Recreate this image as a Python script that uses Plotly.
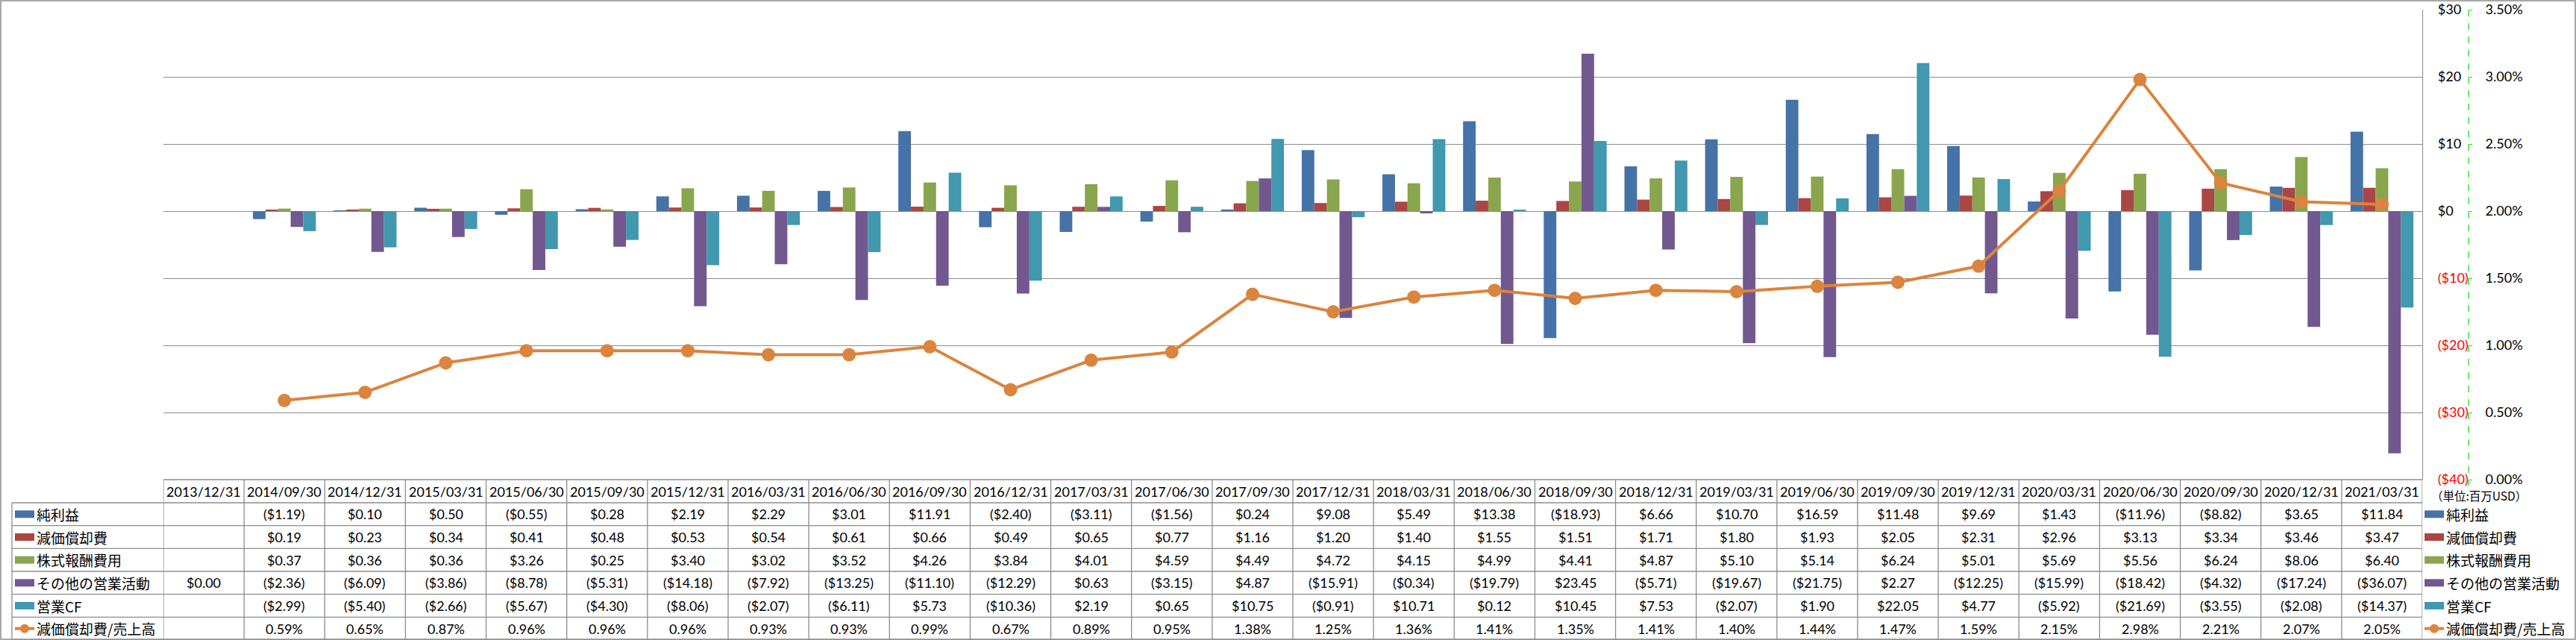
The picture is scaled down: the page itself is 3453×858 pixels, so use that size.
import plotly.graph_objects as go

W, H = 3453, 858

dates = ["2013/12/31", "2014/09/30", "2014/12/31", "2015/03/31", "2015/06/30", "2015/09/30",
         "2015/12/31", "2016/03/31", "2016/06/30", "2016/09/30", "2016/12/31", "2017/03/31",
         "2017/06/30", "2017/09/30", "2017/12/31", "2018/03/31", "2018/06/30", "2018/09/30",
         "2018/12/31", "2019/03/31", "2019/06/30", "2019/09/30", "2019/12/31", "2020/03/31",
         "2020/06/30", "2020/09/30", "2020/12/31", "2021/03/31"]

net_income = [None, -1.19, 0.10, 0.50, -0.55, 0.28, 2.19, 2.29, 3.01, 11.91, -2.40, -3.11,
              -1.56, 0.24, 9.08, 5.49, 13.38, -18.93, 6.66, 10.70, 16.59, 11.48, 9.69, 1.43,
              -11.96, -8.82, 3.65, 11.84]
depreciation = [None, 0.19, 0.23, 0.34, 0.41, 0.48, 0.53, 0.54, 0.61, 0.66, 0.49, 0.65,
                0.77, 1.16, 1.20, 1.40, 1.55, 1.51, 1.71, 1.80, 1.93, 2.05, 2.31, 2.96,
                3.13, 3.34, 3.46, 3.47]
stock_comp = [None, 0.37, 0.36, 0.36, 3.26, 0.25, 3.40, 3.02, 3.52, 4.26, 3.84, 4.01,
              4.59, 4.49, 4.72, 4.15, 4.99, 4.41, 4.87, 5.10, 5.14, 6.24, 5.01, 5.69,
              5.56, 6.24, 8.06, 6.40]
other_ops = [0.00, -2.36, -6.09, -3.86, -8.78, -5.31, -14.18, -7.92, -13.25, -11.10, -12.29, 0.63,
             -3.15, 4.87, -15.91, -0.34, -19.79, 23.45, -5.71, -19.67, -21.75, 2.27, -12.25, -15.99,
             -18.42, -4.32, -17.24, -36.07]
op_cf = [None, -2.99, -5.40, -2.66, -5.67, -4.30, -8.06, -2.07, -6.11, 5.73, -10.36, 2.19,
         0.65, 10.75, -0.91, 10.71, 0.12, 10.45, 7.53, -2.07, 1.90, 22.05, 4.77, -5.92,
         -21.69, -3.55, -2.08, -14.37]
dep_ratio = [None, 0.59, 0.65, 0.87, 0.96, 0.96, 0.96, 0.93, 0.93, 0.99, 0.67, 0.89,
             0.95, 1.38, 1.25, 1.36, 1.41, 1.35, 1.41, 1.40, 1.44, 1.47, 1.59, 2.15,
             2.98, 2.21, 2.07, 2.05]

bar_names = ["純利益", "減価償却費", "株式報酬費用", "その他の営業活動", "営業CF"]
line_name = "減価償却費/売上高"
bar_series = [net_income, depreciation, stock_comp, other_ops, op_cf]
bar_colors = ["#4572A7", "#AA4643", "#89A54E", "#71588F", "#4198AF"]
line_color = "#DB843D"

y_ticks = [-40, -30, -20, -10, 0, 10, 20, 30]
y2_ticks = [0, 0.5, 1.0, 1.5, 2.0, 2.5, 3.0, 3.5]
unit_label = "（単位:百万USD）"

# ---- layout constants (pixels) ----
PL, PR, PT, PB = 219, 3247, 13, 643
HDR_TOP, HDR_BOT = 643, 674
ROW_H = (858 - 674) / 6
LAB_LEFT = 16
Y2_X = 3309
GRID = "#8C8C8C"
NUM_FONT = "Lato"
JP_FONT = "Noto Sans CJK JP"


def px(x):
    return x / W


def py(y):
    return 1 - y / H


def fmt_money(v):
    if v is None:
        return ""
    return f"${v:.2f}" if v >= 0 else f"(${-v:.2f})"


def fmt_pct(v):
    return "" if v is None else f"{v:.2f}%"


def fmt_tick(v):
    if v >= 0:
        return f"${v}"
    return f"<span style='color:#FF0000'>(${-v})</span>"


fig = go.Figure()
for name, vals, col in zip(bar_names, bar_series, bar_colors):
    fig.add_trace(go.Bar(x=dates, y=vals, name=name, marker=dict(color=col, line=dict(width=0)),
                         yaxis="y"))
fig.add_trace(go.Scatter(x=dates, y=dep_ratio, name=line_name, yaxis="y2", mode="lines+markers",
                         line=dict(color=line_color, width=4),
                         marker=dict(size=18, color=line_color)))

shapes = []
annotations = []

# table vertical lines
for k in range(len(dates) + 1):
    shapes.append(dict(type="line", xref="x", yref="paper", x0=k - 0.5, x1=k - 0.5,
                       y0=py(HDR_TOP), y1=py(858), line=dict(color=GRID, width=1.3)))
# label column left border
shapes.append(dict(type="line", xref="paper", yref="paper", x0=px(LAB_LEFT), x1=px(LAB_LEFT),
                   y0=py(HDR_BOT), y1=py(858), line=dict(color=GRID, width=1.3)))
# header top line
shapes.append(dict(type="line", xref="paper", yref="paper", x0=px(PL), x1=px(PR),
                   y0=py(HDR_TOP), y1=py(HDR_TOP), line=dict(color=GRID, width=1.3)))
# row lines
for r in range(7):
    yy = HDR_BOT + r * ROW_H
    shapes.append(dict(type="line", xref="paper", yref="paper", x0=px(LAB_LEFT), x1=px(PR),
                       y0=py(yy), y1=py(yy), line=dict(color=GRID, width=1.3)))
# outer border
shapes.append(dict(type="rect", xref="paper", yref="paper", x0=px(1), x1=px(W - 1),
                   y0=py(1), y1=py(H - 1), line=dict(color=GRID, width=1.5)))
# green dashed secondary axis line
shapes.append(dict(type="line", xref="paper", yref="paper", x0=px(Y2_X), x1=px(Y2_X),
                   y0=py(PT), y1=py(PB + 8), line=dict(color="#22DD22", width=1.3, dash="dash")))

# header texts
for d in dates:
    annotations.append(dict(xref="x", yref="paper", x=d, y=py((HDR_TOP + HDR_BOT) / 2),
                            text=d, showarrow=False, xanchor="center", yanchor="middle",
                            font=dict(family=NUM_FONT, size=18)))

rows = [(bar_names[i], bar_series[i], bar_colors[i], fmt_money) for i in range(5)]
rows.append((line_name, dep_ratio, line_color, fmt_pct))

for r, (name, vals, col, f) in enumerate(rows):
    yc = HDR_BOT + (r + 0.5) * ROW_H
    for d, v in zip(dates, vals):
        t = f(v)
        if t:
            annotations.append(dict(xref="x", yref="paper", x=d, y=py(yc), text=t, showarrow=False,
                                    xanchor="center", yanchor="middle",
                                    font=dict(family=NUM_FONT, size=18)))
    # table row label + key, right legend + key
    for kx0, tx in ((20, 47), (3250, 3277)):
        if r < 5:
            shapes.append(dict(type="rect", xref="paper", yref="paper", x0=px(kx0), x1=px(kx0 + 26),
                               y0=py(yc + 5), y1=py(yc - 5), fillcolor=col, line=dict(width=0)))
        else:
            shapes.append(dict(type="line", xref="paper", yref="paper", x0=px(kx0), x1=px(kx0 + 26),
                               y0=py(yc), y1=py(yc), line=dict(color=col, width=4)))
            shapes.append(dict(type="circle", xref="paper", yref="paper", x0=px(kx0 + 7), x1=px(kx0 + 19),
                               y0=py(yc + 6), y1=py(yc - 6), fillcolor=col, line=dict(width=0)))
        annotations.append(dict(xref="paper", yref="paper", x=px(tx), y=py(yc), text=name,
                                xanchor="left", yanchor="middle", showarrow=False,
                                font=dict(family=JP_FONT, size=19)))

annotations.append(dict(xref="paper", yref="paper", x=px(3257), y=py(664), text=unit_label,
                        xanchor="left", yanchor="middle", showarrow=False,
                        font=dict(family=JP_FONT, size=15.5)))

fig.update_layout(
    template="none",
    width=W, height=H, margin=dict(l=0, r=0, t=0, b=0, pad=0),
    paper_bgcolor="white", plot_bgcolor="white",
    barmode="group", bargap=0.22, bargroupgap=0,
    showlegend=False,
    font=dict(family=NUM_FONT, size=18, color="black"),
    xaxis=dict(domain=[px(PL), px(PR)], type="category", range=[-0.5, len(dates) - 0.5],
               automargin=False,
               showticklabels=False, showgrid=False, zeroline=False, showline=False, ticks=""),
    yaxis=dict(domain=[py(PB), py(PT)], range=[-40, 30], side="right", automargin=False,
               tickvals=y_ticks, ticktext=[fmt_tick(v) for v in y_ticks],
               showgrid=True, gridcolor=GRID, gridwidth=1.3,
               zeroline=True, zerolinecolor=GRID, zerolinewidth=1.3,
               showline=True, linecolor=GRID, linewidth=1.3, ticks="",
               ticklabelstandoff=16, tickfont=dict(family=NUM_FONT, size=18)),
    yaxis2=dict(overlaying="y", anchor="free", position=px(Y2_X), side="right", range=[0, 3.5],
                automargin=False,
                tickvals=y2_ticks, ticktext=[f"{v:.2f}%" for v in y2_ticks],
                showgrid=False, zeroline=False, showline=False,
                ticks="outside", ticklen=4, tickcolor="#22DD22", tickwidth=1.3,
                ticklabelstandoff=14, tickfont=dict(family=NUM_FONT, size=18)),
    shapes=shapes, annotations=annotations,
)

fig.write_html("out.html", config={"displayModeBar": False},
               post_script="document.body.style.margin='0';document.body.style.overflow='hidden';")
